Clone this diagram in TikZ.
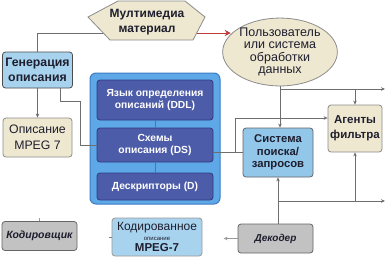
\documentclass[tikz,border=0pt]{standalone}
\usepackage{fontspec}
\setmainfont{Liberation Sans}
\usetikzlibrary{shapes.geometric,arrows.meta}
\definecolor{lblue}{HTML}{A8D3EF}
\definecolor{sysblue}{HTML}{92C7EA}
\definecolor{beige}{HTML}{EEE8D0}
\definecolor{panelblue}{HTML}{5EA8E8}
\definecolor{paneledge}{HTML}{3C7CC4}
\definecolor{dblue}{HTML}{4C5CA8}
\definecolor{dblueedge}{HTML}{2E3A80}
\definecolor{gbox}{HTML}{C2C2C2}
\definecolor{lgray}{HTML}{6E6E6E}
\definecolor{txt}{HTML}{1E1E2E}
\definecolor{redarr}{HTML}{C03A3A}
\begin{document}
\begin{tikzpicture}[x=1pt,y=-1pt,
  basebox/.style={rounded corners=3pt, line width=0.8pt, align=center, inner sep=1pt, text=txt},
  bluebox/.style={basebox, draw=black!70, fill=lblue},
  beigebox/.style={basebox, draw=black!45, fill=beige},
  graybox/.style={basebox, draw=black!60, fill=gbox},
  innerbox/.style={basebox, draw=dblueedge, fill=dblue, text=white, font=\bfseries\fontsize{10.3}{12.5}\selectfont},
  conn/.style={draw=lgray, line width=0.6pt},
  arr/.style={conn, -{Stealth[length=4pt,width=3.5pt]}},
]
\useasboundingbox (0,0) rectangle (387,258);
\fill[white] (0,0) rectangle (387,258);

% hexagon "Мултимедиа материал"
\draw[draw=black!45, fill=beige, line width=0.8pt] (88,17) -- (118,1) -- (185,1) -- (205,17) -- (193,40) -- (110,40) -- cycle;
\node[align=center, text=txt, font=\bfseries\fontsize{12}{15}\selectfont] (mm) at (147,22) {Мултимедиа\\материал};
\coordinate (hexL) at (103,33);
\coordinate (hexR) at (197,33);

% ellipse
\node[ellipse, draw=black!45, fill=beige, line width=0.8pt, minimum width=114pt, minimum height=56pt, inner sep=0pt, align=center, text=txt, font=\fontsize{12.5}{12.3}\selectfont] (ell) at (280,52) {Пользователь\\или система\\обработки\\данных};

% left boxes
\node[bluebox, minimum width=70pt, minimum height=36pt, font=\bfseries\fontsize{12.3}{15}\selectfont] (gen) at (37.5,70) {Генерация\\описания};
\node[beigebox, minimum width=69pt, minimum height=39pt, font=\fontsize{12.3}{16}\selectfont] (mpeg) at (37.5,137.5) {Описание\\MPEG 7};

% panel
\node[draw=paneledge, fill=panelblue, rounded corners=6pt, line width=1pt, minimum width=130pt, minimum height=131pt, inner sep=0pt] (panel) at (155,138.5) {};
\node[innerbox, minimum width=116pt, minimum height=40pt] (ddl) at (155,100) {Язык определения\\описаний (DDL)};
\node[innerbox, minimum width=116pt, minimum height=34pt] (ds) at (155,145) {Схемы\\описания (DS)};
\node[innerbox, minimum width=116pt, minimum height=27pt] (des) at (155,186.5) {Дескрипторы (D)};

% right boxes
\node[basebox, draw=black!60, fill=sysblue, minimum width=70pt, minimum height=49pt, font=\bfseries\fontsize{11.3}{12.5}\selectfont] (sys) at (278,152.5) {Система\\поиска/\\запросов};
\node[beigebox, minimum width=54pt, minimum height=47pt, font=\bfseries\fontsize{11.5}{15}\selectfont] (agt) at (355,128.5) {Агенты\\фильтра};

% bottom boxes
\node[graybox, minimum width=75pt, minimum height=29pt, font=\bfseries\itshape\fontsize{10.5}{11}\selectfont] (enc) at (39.5,236) {Кодировщик};
\node[bluebox, draw=black!40, minimum width=90pt, minimum height=38pt] (cod) at (157,237) {{\fontsize{12}{12}\selectfont Кодированное}\\[-2pt]{\fontsize{6}{7}\selectfont описание}\\[-1pt]{\bfseries\fontsize{11.5}{12}\selectfont MPEG-7}};
\node[graybox, minimum width=75pt, minimum height=29pt, font=\bfseries\itshape\fontsize{10}{11}\selectfont] (dec) at (275.5,238.5) {Декодер};

% connectors
\draw[conn] (gen.north) |- (hexL);
\draw[-{Stealth[length=6pt,width=6pt]}, draw=redarr, fill=redarr, line width=0.7pt] (hexR) -- (hexR -| ell.160);
\draw[arr] (gen.south) -- (mpeg.north);
\draw[conn] ([xshift=23pt]gen.south) |- (80,101) |- (ds.west);
\draw[conn] (ddl.south) -- (ds.north);
\draw[conn] (ds.south) -- (des.north);
\draw[conn] (sys.west) -- (sys.west -| ds.east);
\coordinate (br) at (235,152.5);
\draw[arr] (br) |- ([yshift=10.5pt]agt.west);
\draw[arr] (ell.south) -- (ell.south |- sys.north);
\coordinate (rt1) at (385,89);
\draw[arr] (ell.south |- rt1) -- (rt1);
\draw[arr] (agt.north |- rt1) -- (agt.north);
\draw[arr] (sys.south |- dec.north) -- (sys.south);
\coordinate (rt2) at (385,201);
\draw[arr] (sys.south |- rt2) -- (rt2);
\draw[arr] (agt.south |- rt2) -- (agt.south);
% short stubs
\draw[conn, draw=black!40] (enc.north) -- ++(0,-3);
\draw[conn, draw=black!50] (cod.west) -- ++(-3,0);
\draw[arr, draw=black!40] (dec.west) -- ++(-14,0);
\end{tikzpicture}
\end{document}
